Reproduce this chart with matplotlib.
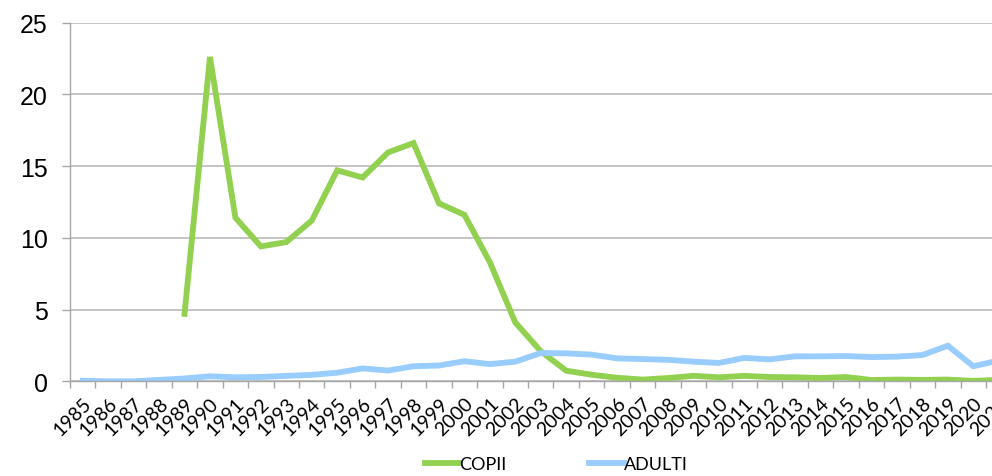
import matplotlib
matplotlib.use("Agg")
import matplotlib.pyplot as plt
import numpy as np

# years on the x axis
years = [str(y) for y in range(1985, 2022)]

# COPII starts in 1989
copii = [None, None, None, None,
         4.7, 22.6, 11.4, 9.4, 9.7, 11.2, 14.7, 14.2, 15.95, 16.6, 12.4,
         11.6, 8.3, 4.1, 2.1, 0.74, 0.46, 0.25, 0.12, 0.23, 0.38,
         0.28, 0.38, 0.3, 0.28, 0.23, 0.3, 0.09, 0.12, 0.1, 0.12,
         0.03, 0.1]
adulti = [0.04, 0.0, 0.0, 0.1, 0.2, 0.35, 0.28, 0.3, 0.38, 0.45,
          0.6, 0.9, 0.75, 1.05, 1.1, 1.4, 1.2, 1.37, 1.97, 1.95,
          1.86, 1.6, 1.55, 1.5, 1.37, 1.28, 1.63, 1.53, 1.74, 1.74,
          1.76, 1.69, 1.72, 1.83, 2.48, 1.05, 1.45]

green = "#92D050"
blue = "#99CCFF"
grid_col = "#BFBFBF"

fig = plt.figure(figsize=(9.92, 4.77), dpi=100)
ax = fig.add_axes([0.0706, 0.1985, 0.949, 0.7522])

x = np.arange(len(years))
cop = np.array([np.nan if v is None else v for v in copii], dtype=float)
l1, = ax.plot(x, cop, color=green, lw=4.2, solid_joinstyle="miter", label="COPII")
l2, = ax.plot(x, adulti, color=blue, lw=4.2, solid_joinstyle="miter", label="ADULTI")

ax.set_xlim(-0.5, len(years) - 0.5)
ax.set_ylim(0, 25)
ax.set_yticks([0, 5, 10, 15, 20, 25])
ax.yaxis.grid(True, color=grid_col, lw=1.3)
ax.set_axisbelow(True)

for s in ["top", "right"]:
    ax.spines[s].set_visible(False)
for s in ["left", "bottom"]:
    ax.spines[s].set_color("#A6A6A6")
    ax.spines[s].set_linewidth(1.0)

ax.tick_params(axis="y", length=6, width=1, color="#A6A6A6", pad=10)
ax.set_yticklabels(["0", "5", "10", "15", "20", "25"],
                   family="Liberation Sans", fontsize=18)

# category boundary ticks on x, labels at centers
ax.set_xticks(np.arange(-0.5, len(years) + 0.5, 1), minor=False)
ax.set_xticklabels([])
ax.set_xticks(x, minor=True)
ax.set_xticklabels(years, minor=True, rotation=45, ha="right", va="top",
                   rotation_mode="anchor", family="Lato", fontsize=14)
ax.tick_params(axis="x", which="major", length=5, width=1, color="#A6A6A6")
ax.tick_params(axis="x", which="minor", length=0, pad=9)

leg = fig.legend(handles=[l1, l2], loc="center", bbox_to_anchor=(0.5605, 0.025),
                 ncol=2, frameon=False, prop={"family": "Lato", "size": 13},
                 handlelength=1.9, handletextpad=0.0, columnspacing=4.6)

fig.savefig("out.png", dpi=100)
